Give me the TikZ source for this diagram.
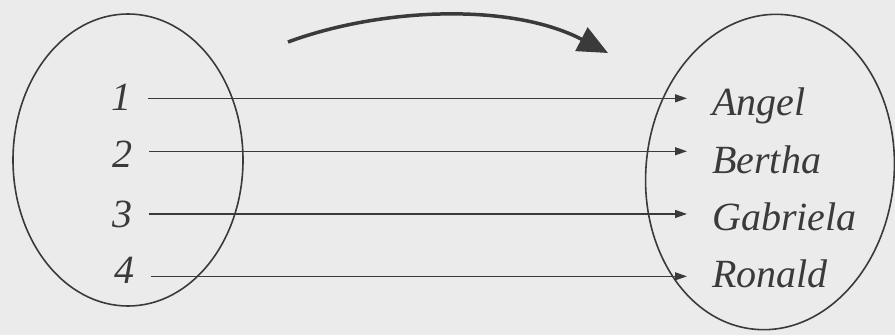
\documentclass[tikz,border=0pt]{standalone}
\usepackage{fontspec}
\setmainfont{Liberation Serif}
\usetikzlibrary{arrows.meta}
\definecolor{ink}{HTML}{3A3A3A}
\definecolor{paper}{HTML}{EBEBEB}
\tikzset{
  lbltext/.style={font=\fontsize{40}{48}\selectfont\itshape, text=ink, inner ysep=0pt},
  numlbl/.style={lbltext, inner xsep=17pt, anchor=base},
  personlbl/.style={lbltext, inner xsep=25pt, anchor=base west},
  link/.style={draw=ink, line width=1.3pt, -{Triangle[length=12pt,width=8pt]}},
  setline/.style={draw=ink, line width=1.6pt},
  bigarrow/.style={draw=ink, line width=3.5pt, -{Triangle[length=30pt,width=26pt]}}
}
\begin{document}
\begin{tikzpicture}[x=1pt,y=-1pt]
\fill[paper] (0,0) rectangle (895,335);
\useasboundingbox (0,0) rectangle (895,335);
% sets
\draw[setline] (128,160) ellipse [x radius=115, y radius=146];
\draw[setline, rotate around={-6:(770,172)}] (770,172) ellipse [x radius=124, y radius=158];
% domain labels
\node[numlbl] (n1) at (121,110) {1};
\node[numlbl] (n2) at (122,167) {2};
\node[numlbl] (n3) at (122,227) {3};
\node[numlbl] (n4) at (124,283) {4};
% codomain labels
\node[personlbl] (m1) at (687,115) {Angel};
\node[personlbl] (m2) at (687,173) {Bertha};
\node[personlbl] (m3) at (687,230) {Gabriela};
\node[personlbl] (m4) at (687,287) {Ronald};
% mapping arrows
\draw[link] ([yshift=-1.5pt]n1.east) -- ([yshift=-1.5pt]n1.east -| m1.west);
\draw[link] ([yshift=2.5pt]n2.east) -- ([yshift=2.5pt]n2.east -| m2.west);
\draw[link] (n3.east) -- (n3.east -| m3.west);
\draw[link] ([yshift=-6.5pt]n4.east) -- ([yshift=-6.5pt]n4.east -| m4.west);
% big curved arrow
\coordinate (cs) at (288,42);
\coordinate (ce) at (608,53);
\draw[bigarrow] (cs) .. controls (380,8) and (510,2) .. (ce);
\end{tikzpicture}
\end{document}
